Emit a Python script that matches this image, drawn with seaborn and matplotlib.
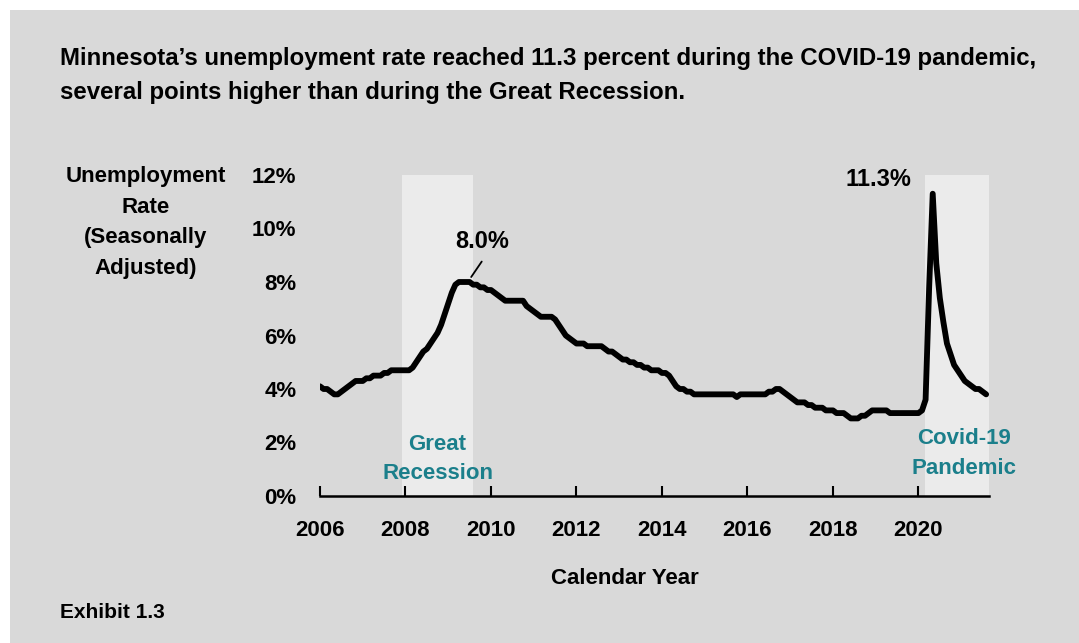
import numpy as np
import pandas as pd
import matplotlib
matplotlib.use('Agg')
import matplotlib.pyplot as plt
from matplotlib.patches import Rectangle
import seaborn as sns

# Monthly seasonally adjusted unemployment rate, Jan 2006 - Aug 2021
start_month = '2006-01'
unemployment_rate = [
    4.1, 4.0, 4.0, 3.9, 3.8, 3.8, 3.9, 4.0, 4.1, 4.2, 4.3, 4.3,   # 2006
    4.3, 4.4, 4.4, 4.5, 4.5, 4.5, 4.6, 4.6, 4.7, 4.7, 4.7, 4.7,   # 2007
    4.7, 4.7, 4.8, 5.0, 5.2, 5.4, 5.5, 5.7, 5.9, 6.1, 6.4, 6.8,   # 2008
    7.2, 7.6, 7.9, 8.0, 8.0, 8.0, 8.0, 7.9, 7.9, 7.8, 7.8, 7.7,   # 2009
    7.7, 7.6, 7.5, 7.4, 7.3, 7.3, 7.3, 7.3, 7.3, 7.3, 7.1, 7.0,   # 2010
    6.9, 6.8, 6.7, 6.7, 6.7, 6.7, 6.6, 6.4, 6.2, 6.0, 5.9, 5.8,   # 2011
    5.7, 5.7, 5.7, 5.6, 5.6, 5.6, 5.6, 5.6, 5.5, 5.4, 5.4, 5.3,   # 2012
    5.2, 5.1, 5.1, 5.0, 5.0, 4.9, 4.9, 4.8, 4.8, 4.7, 4.7, 4.7,   # 2013
    4.6, 4.6, 4.5, 4.3, 4.1, 4.0, 4.0, 3.9, 3.9, 3.8, 3.8, 3.8,   # 2014
    3.8, 3.8, 3.8, 3.8, 3.8, 3.8, 3.8, 3.8, 3.8, 3.7, 3.8, 3.8,   # 2015
    3.8, 3.8, 3.8, 3.8, 3.8, 3.8, 3.9, 3.9, 4.0, 4.0, 3.9, 3.8,   # 2016
    3.7, 3.6, 3.5, 3.5, 3.5, 3.4, 3.4, 3.3, 3.3, 3.3, 3.2, 3.2,   # 2017
    3.2, 3.1, 3.1, 3.1, 3.0, 2.9, 2.9, 2.9, 3.0, 3.0, 3.1, 3.2,   # 2018
    3.2, 3.2, 3.2, 3.2, 3.1, 3.1, 3.1, 3.1, 3.1, 3.1, 3.1, 3.1,   # 2019
    3.1, 3.2, 3.6, 7.8, 11.3, 8.7, 7.4, 6.5, 5.7, 5.3, 4.9, 4.7,  # 2020
    4.5, 4.3, 4.2, 4.1, 4.0, 4.0, 3.9, 3.8,                       # 2021
]

# Shaded periods (decimal years)
recession_span = (2007.92, 2009.58)
pandemic_span = (2020.15, 2021.65)

year_ticks = list(range(2006, 2021, 2))
pct_ticks = [0, 2, 4, 6, 8, 10, 12]

BG = '#d9d9d9'
SHADE = '#ebebeb'
TEAL = '#1b7f8b'

# Build the data frame
months = pd.period_range(start_month, periods=len(unemployment_rate), freq='M')
df = pd.DataFrame({
    'year_frac': months.year + (months.month - 1) / 12,
    'rate': unemployment_rate,
})

sns.set_style('white')
plt.rcParams['font.family'] = ['Liberation Sans', 'DejaVu Sans']
plt.rcParams['font.weight'] = 'bold'
plt.rcParams['text.color'] = 'black'
plt.rcParams['xtick.color'] = 'black'
plt.rcParams['ytick.color'] = 'black'

W, H = 1079, 643
fig = plt.figure(figsize=(W / 100, H / 100), dpi=100, facecolor='white')
# gray panel with a thin white margin at top and left
fig.patches.append(Rectangle((10 / W, 0), 1, 1 - 10 / H, transform=fig.transFigure,
                             facecolor=BG, edgecolor='none', zorder=-10))

def px(x, y):
    return x / W, 1 - y / H

ax = fig.add_axes([320 / W, 1 - 496 / H, 669 / W, 321 / H])
ax.set_facecolor('none')

ax.axvspan(*recession_span, color=SHADE, zorder=0, lw=0)
ax.axvspan(*pandemic_span, color=SHADE, zorder=0, lw=0)

sns.lineplot(data=df, x='year_frac', y='rate', ax=ax, color='black', linewidth=4.2,
             solid_capstyle='round', solid_joinstyle='round', zorder=3)

ax.set_xlim(2006, 2021.65)
ax.set_ylim(0, 12)
ax.set_xticks(year_ticks)
ax.set_xticklabels([str(y) for y in year_ticks], fontsize=16, fontweight='bold')
ax.set_yticks(pct_ticks)
ax.set_yticklabels([f'{p}%' for p in pct_ticks], fontsize=16, fontweight='bold')
ax.tick_params(axis='x', bottom=True, direction='in', length=7, width=1.5,
               color='black', labelcolor='black', pad=17)
ax.tick_params(axis='y', left=False, length=0, labelcolor='black', pad=17)
ax.set_xlabel('')
ax.set_ylabel('')
for s in ['top', 'right', 'left']:
    ax.spines[s].set_visible(False)
ax.spines['bottom'].set_linewidth(1.8)
ax.spines['bottom'].set_color('black')

# Peak labels
rec = df[df['year_frac'] < 2012]
rec_peak = rec.loc[rec['rate'].idxmax(), 'rate']
rec_peak_end = rec.loc[rec['rate'] == rec_peak, 'year_frac'].max()
ax.annotate('', xy=(rec_peak_end, rec_peak + 0.1), xytext=(rec_peak_end + 0.32, rec_peak + 0.85),
            arrowprops=dict(arrowstyle='-', lw=1.3, color='black'))
ax.text(rec_peak_end + 0.3, rec_peak + 1.5, f'{rec_peak:.1f}%', ha='center', va='center',
        fontsize=17, fontweight='bold')

cov_idx = df['rate'].idxmax()
ax.annotate(f"{df.loc[cov_idx, 'rate']:.1f}%", xy=(df.loc[cov_idx, 'year_frac'], df.loc[cov_idx, 'rate']),
            xytext=(-54, 14), textcoords='offset pixels', ha='center', va='center',
            fontsize=17, fontweight='bold')

# Period labels
ax.text(sum(recession_span) / 2, 1.38, 'Great\nRecession', ha='center', va='center',
        color=TEAL, fontsize=16, fontweight='bold', linespacing=1.55, zorder=4)
ax.text(2021.06, 1.6, 'Covid-19\nPandemic', ha='center', va='center',
        color=TEAL, fontsize=16, fontweight='bold', linespacing=1.55, zorder=4)

# Titles and labels
fig.text(*px(60, 47), "Minnesota\u2019s unemployment rate reached 11.3 percent during the COVID-19 pandemic,\n"
         "several points higher than during the Great Recession.",
         ha='left', va='top', fontsize=17.3, fontweight='bold', linespacing=1.6)
fig.text(*px(146, 166), 'Unemployment\nRate\n(Seasonally\nAdjusted)', ha='center', va='top',
         fontsize=16, fontweight='bold', linespacing=1.6)
fig.text(*px(625, 578), 'Calendar Year', ha='center', va='center', fontsize=16, fontweight='bold')
fig.text(*px(60, 612), 'Exhibit 1.3', ha='left', va='center', fontsize=15, fontweight='bold')

fig.savefig('out.png', dpi=100, facecolor='white')
